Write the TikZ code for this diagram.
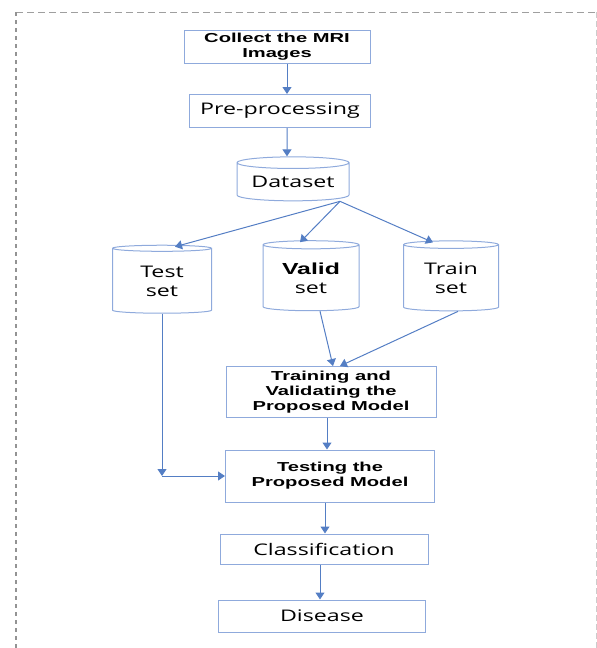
\documentclass[tikz,border=0pt]{standalone}
\usepackage{fontspec}
\usetikzlibrary{positioning}
\usetikzlibrary{shapes.geometric}
\usetikzlibrary{arrows.meta}
\newfontfamily\regfont[FakeStretch=1.45]{Open Sans}
\newfontfamily\boldfont[FakeStretch=1.55]{Liberation Sans Bold}
\definecolor{boxblue}{RGB}{143,170,220}
\definecolor{arrowblue}{RGB}{84,126,196}
\tikzset{
  box/.style       = { rectangle, draw=boxblue, line width=1pt, inner sep=0pt },
  drum/.style      = { cylinder, shape border rotate=90, aspect=0.14, draw=boxblue,
                       line width=1pt, inner sep=0pt },
  plain/.style     = { font=\regfont\fontsize{16}{19}\selectfont },
  heavy/.style     = { font=\boldfont\fontsize{13}{15}\selectfont, align=center },
  flow/.style      = { draw=arrowblue, line width=1pt, -{Triangle[length=7pt,width=9pt]} },
}
\begin{document}
\begin{tikzpicture}[x=1pt,y=-1pt]
  \useasboundingbox (0,0) rectangle (597,648);

  % frame
  \draw [gray!75, line width=1pt, dash pattern=on 7pt off 4pt] (16,12) -- (596,12);
  \draw [gray!85, line width=2pt, dash pattern=on 4pt off 4pt] (16,12) -- (16,648);
  \draw [gray!40, line width=0.8pt, dash pattern=on 6pt off 3pt] (596,12) -- (596,648);

  \node (collect) [box,heavy,minimum width=186pt,minimum height=33pt] at (277,47)
        {Collect the MRI\\Images};
  \node (prep)    [box,plain,minimum width=181pt,minimum height=33pt] at (280,111)
        {Pre-processing};
  \node (data)    [drum,plain,minimum width=112pt,minimum height=44pt] at (293,182)
        {Dataset};
  \node (test)    [drum,plain,align=center,minimum width=99pt,minimum height=68pt] at (162,281)
        {Test\\set};
  \node (valid)   [drum,plain,align=center,minimum width=96pt,minimum height=70pt] at (311,278)
        {{\boldfont Valid}\\set};
  \node (train)   [drum,plain,align=center,minimum width=95pt,minimum height=70pt] at (451,278)
        {Train\\set};
  \node (trainval)[box,heavy,minimum width=210pt,minimum height=51pt] at (331,392)
        {Training and\\Validating the\\Proposed Model};
  \node (testing) [box,heavy,minimum width=209pt,minimum height=52pt] at (330,476)
        {Testing the\\Proposed Model};
  \node (classif) [box,plain,minimum width=208pt,minimum height=30pt] at (324,549)
        {Classification};
  \node (disease) [box,plain,minimum width=207pt,minimum height=32pt] at (322,616)
        {Disease};
  \coordinate (corner) at (test.south |- testing.west);

  \draw [flow] ([xshift=10pt]collect.south) -- ([xshift=7pt]prep.north);
  \draw [flow] ([xshift=7pt]prep.south)     -- ([xshift=-6pt]data.north);

  \draw [flow] ([xshift=47pt]data.south) -- ([xshift=13pt,yshift=-2pt]test.north);
  \draw [flow] ([xshift=47pt]data.south) -- ([xshift=-11pt,yshift=-2pt]valid.north);
  \draw [flow] ([xshift=47pt]data.south) -- ([xshift=-18pt,yshift=-2pt]train.north);

  \draw [flow] ([xshift=9pt]valid.south) -- ([xshift=2pt]trainval.north);
  \draw [flow] ([xshift=7pt]train.south) -- ([xshift=9pt]trainval.north);

  \draw [flow] (test.south) -- (corner);
  \draw [flow] (corner) -- (testing.west);

  \draw [flow] ([xshift=-4pt]trainval.south) -- ([xshift=-3pt]testing.north);
  \draw [flow] ([xshift=-5pt]testing.south)  -- ([xshift=1pt]classif.north);
  \draw [flow] ([xshift=-4pt]classif.south)  -- ([xshift=-2pt]disease.north);
\end{tikzpicture}
\end{document}
